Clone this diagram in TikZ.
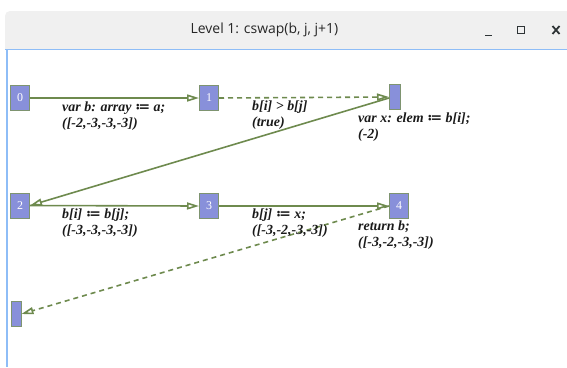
\documentclass[tikz,border=0pt]{standalone}
\usepackage{fontspec}
\setmainfont{Liberation Serif}
\newfontfamily\titlefont{Open Sans}
\newfontfamily\symfont{DejaVu Serif}
\usetikzlibrary{arrows.meta}
\definecolor{nodefill}{HTML}{8890DA}
\definecolor{nodeedge}{HTML}{7E9470}
\definecolor{edgecol}{HTML}{6E8A4E}
\definecolor{labcol}{HTML}{1A1A1A}
\definecolor{titlebg}{HTML}{F0F0F0}
\definecolor{titleline}{HTML}{8EBDF7}
\definecolor{btncol}{HTML}{2E3436}
\newcommand{\ceq}{{\symfont\bfseries\itshape ≔}}
\newcommand{\fl}{\rule{0pt}{11bp}}
\tikzset{
  stnode/.style={draw=nodeedge, line width=1pt, fill=nodefill, inner sep=0pt,
    minimum width=19bp, minimum height=25bp, text=white, font=\fontsize{12}{12}\selectfont},
  thinnode/.style={stnode, minimum width=11bp},
  edge/.style={draw=edgecol, line width=1.6pt, -{Triangle[open, length=12bp, width=7bp]}},
  dashedge/.style={edge, dash pattern=on 5bp off 4bp},
  lab/.style={anchor=north west, align=left, inner sep=0pt, text=labcol,
    font=\fontsize{14}{16}\selectfont\bfseries\itshape}
}
\begin{document}
\begin{tikzpicture}[x=1bp, y=-1bp]
\useasboundingbox (0,0) rectangle (567,367);
\fill[white] (0,0) rectangle (567,367);
% window title bar
\fill[titlebg, rounded corners=5bp] (5,11) rectangle (580,60);
\fill[white] (5,49) rectangle (567,367);
\draw[titleline, line width=1.6pt] (5,49.5) -- (567,49.5);
\draw[titleline, line width=2pt] (7,49.5) -- (7,367);
\node[font=\titlefont\fontsize{14}{14}\selectfont, text=black!85] (title) at (264.5,29.5) {Level 1: cswap(b, j, j+1)};
% buttons
\draw[btncol, line width=1.6pt] (485,35.5) -- (492,35.5);
\draw[btncol, line width=1.6pt] (517.5,26.5) rectangle (524.5,33.5);
\draw[btncol, line width=1.8pt] (552.5,26) -- (559.5,34) (552.5,34) -- (559.5,26);
% nodes
\node[stnode] (n0) at (20,98) {0};
\node[stnode] (n1) at (209,98) {1};
\node[thinnode] (nx) at (395,97) {};
\node[stnode] (n2) at (20,205.5) {2};
\node[stnode] (n3) at (209,206) {3};
\node[stnode] (n4) at (399,206) {4};
\node[thinnode, minimum width=10bp] (nb) at (16,314) {};
% edges
\draw[edge] (n0.east) -- (n1.west);
\draw[dashedge] (n1.east) -- (nx.west);
\draw[edge] ([yshift=-1bp]nx.west) -- (n2.east);
\draw[edge] (n2.east) -- (n3.west);
\draw[edge] (n3.east) -- (n4.west);
\draw[dashedge] (n4.west) -- (nb.east);
% labels (top = first baseline - 11)
\node[lab] (l01) at (62,100) {\fl var b: array \ceq{} a;\\([-2,-3,-3,-3])};
\node[lab] (l1x) at (252,99) {\fl b[i] > b[j]\\(true)};
\node[lab] (lx2) at (358,111) {\fl var x: elem \ceq{} b[i];\\(-2)};
\node[lab] (l23) at (62,207) {\fl b[i] \ceq{} b[j];\\([-3,-3,-3,-3])};
\node[lab] (l34) at (252,207) {\fl b[j] \ceq{} x;\\([-3,-2,-3,-3])};
\node[lab] (l4b) at (358,219) {\fl return b;\\([-3,-2,-3,-3])};
\end{tikzpicture}
\end{document}
